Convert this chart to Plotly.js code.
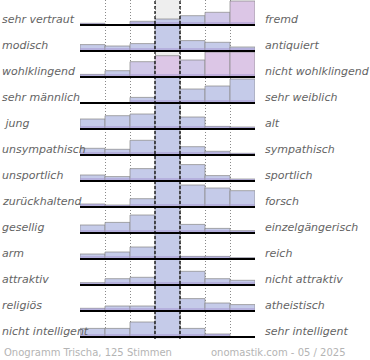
<!DOCTYPE html>
<html>
<head>
<meta charset="utf-8">
<script src="https://cdn.plot.ly/plotly-3.0.1.min.js"></script>
<style>html,body{margin:0;padding:0;background:#fff;}#chart{width:370px;height:360px;}</style>
</head>
<body>
<div id="chart"></div>
<script>
// Left / right poles of each scale
const leftLabels = ["sehr vertraut","modisch","wohlklingend","sehr männlich","\u00a0jung","unsympathisch","unsportlich","zurückhaltend","gesellig","arm","attraktiv","religiös","nicht intelligent"];
const rightLabels = ["fremd","antiquiert","nicht wohlklingend","sehr weiblich","alt","sympathisch","sportlich","forsch","einzelgängerisch","reich","nicht attraktiv","atheistisch","sehr intelligent"];

// Bar heights for the 7 steps of each scale (26 = full row)
const vertraut     = [1.7, 0, 3.7, 6, 9.3, 12.7, 24];
const modisch      = [6.4, 5, 7.4, 26, 10.4, 8.7, 4];
const wohlklingend = [2.6, 6.3, 15.3, 21.3, 17, 25, 25];
const maennlich    = [0, 0, 5.6, 26, 14, 17, 24];
const jung         = [10, 13.3, 15, 26, 12, 2.6, 2];
const unsympath    = [6.7, 5.7, 14.7, 26, 8.3, 3.7, 1.7];
const unsportlich  = [6, 4.4, 12.4, 26, 16.4, 5.4, 2];
const zurueck      = [3, 2, 8.3, 26, 22, 19, 16.3];
const gesellig     = [8, 10.6, 18, 26, 8.6, 4.6, 2.3];
const arm          = [5, 7, 12, 26, 2.6, 2.6, 1.3];
const attraktiv    = [2.3, 6.3, 7.7, 26, 13.7, 6.3, 4.7];
const religioes    = [2.7, 5, 5, 26, 12.4, 8, 6.4];
const intelligent  = [8.6, 8.6, 15, 26, 8.6, 3, 0];

const rows = [vertraut, modisch, wohlklingend, maennlich, jung, unsympath, unsportlich, zurueck, gesellig, arm, attraktiv, religioes, intelligent];
const steps = [0.5, 1.5, 2.5, 3.5, 4.5, 5.5, 6.5];

// styling
const ROW = 26;
const BLUE = '#c5cbe9', PINK = '#dcc6e6', MIX = '#d0c8e8';
const colorRows = rows.map(() => steps.map(() => BLUE));
colorRows[0][5] = MIX; colorRows[0][6] = PINK;
colorRows[2][2] = MIX; colorRows[2][3] = PINK; colorRows[2][4] = MIX; colorRows[2][5] = PINK; colorRows[2][6] = PINK;

const n = rows.length;
const xs = [], ys = [], bases = [], cols = [], strip = [];
rows.forEach((r, i) => {
  const b = (n - 1 - i) * ROW;
  r.forEach((v, j) => {
    xs.push(steps[j]); ys.push(v); bases.push(b); cols.push(colorRows[i][j]);
    strip.push(Math.min(v, 3));
  });
});

const traces = [
  {type: 'bar', x: xs, y: ys, base: bases, width: 1, marker: {color: cols, line: {color: 'rgba(140,140,140,0.75)', width: 1}}, hoverinfo: 'skip'},
  {type: 'bar', x: xs, y: strip, base: bases, width: 0.98, marker: {color: 'rgba(165,150,210,0.5)', line: {width: 0}}, hoverinfo: 'skip'}
];

const shapes = [
  {type: 'rect', xref: 'x', yref: 'paper', x0: 3, x1: 4, y0: 0, y1: 1, fillcolor: '#eeeeee', line: {width: 0}, layer: 'below'},
  {type: 'line', xref: 'x', yref: 'paper', x0: 3, x1: 3, y0: 0, y1: 1, line: {color: '#000', width: 1.2, dash: '3px,2px'}, layer: 'above'},
  {type: 'line', xref: 'x', yref: 'paper', x0: 4, x1: 4, y0: 0, y1: 1, line: {color: '#000', width: 1.2, dash: '3px,2px'}, layer: 'above'}
];
const annotations = [];
const lblFont = {family: 'DejaVu Sans', size: 11, color: '#646464', style: 'italic'};
rows.forEach((r, i) => {
  const b = (n - 1 - i) * ROW;
  shapes.push({type: 'line', xref: 'x', yref: 'y', x0: 0, x1: 7.03, y0: b, y1: b, line: {color: '#000', width: 2}, layer: 'above'});
  annotations.push({xref: 'paper', yref: 'y', x: -80/175, y: b + 5.5, xanchor: 'left', yanchor: 'middle', text: leftLabels[i], showarrow: false, font: lblFont});
  annotations.push({xref: 'paper', yref: 'y', x: 183/175, y: b + 5.5, xanchor: 'left', yanchor: 'middle', text: rightLabels[i], showarrow: false, font: lblFont});
});
const footFont = {family: 'DejaVu Sans', size: 10, color: '#b4b4b4'};
annotations.push({xref: 'paper', yref: 'paper', x: -78/175, y: -13/339, xanchor: 'left', yanchor: 'middle', text: 'Onogramm Trischa, 125 Stimmen', showarrow: false, font: footFont});
annotations.push({xref: 'paper', yref: 'paper', x: 268/175, y: -13/339, xanchor: 'right', yanchor: 'middle', text: 'onomastik.com - 05 / 2025', showarrow: false, font: footFont});

const layout = {
  width: 370, height: 360,
  margin: {l: 80, r: 115, t: 0, b: 21, pad: 0},
  paper_bgcolor: '#fff', plot_bgcolor: '#fff',
  showlegend: false, barmode: 'overlay',
  xaxis: {range: [0, 7], tickvals: [0,1,2,3,4,5,6,7], showticklabels: false, ticks: '', showgrid: true, gridcolor: '#8a8a8a', griddash: '1px,2px', gridwidth: 1, zeroline: false, showline: false, fixedrange: true},
  yaxis: {range: [-2, 337], showgrid: false, showticklabels: false, ticks: '', zeroline: false, showline: false, fixedrange: true},
  shapes: shapes, annotations: annotations
};
Plotly.newPlot('chart', traces, layout, {displayModeBar: false, staticPlot: true});
</script>
</body>
</html>
